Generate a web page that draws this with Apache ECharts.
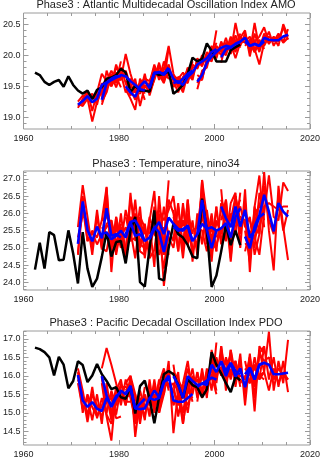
<!DOCTYPE html>
<html>
<head>
<meta charset="utf-8">
<script src="https://cdn.jsdelivr.net/npm/echarts@6/dist/echarts.min.js"></script>
<style>
  html, body { margin: 0; padding: 0; background: #fff; }
  #chart { width: 323px; height: 459px; }
</style>
</head>
<body>
<div id="chart"></div>
<script>
// Decadal hindcasts: start dates every five years, ten years each, four members per start.
const startYears = [1971, 1976, 1981, 1986, 1991, 1996, 2001, 2006];
const obsFirstYear = 1962;
const xTickYears = [1960, 1980, 2000, 2020];

// ---------- Atlantic Multidecadal Oscillation (AMO) ----------
const amoObs = [
  19.72, 19.68, 19.57, 19.52, 19.57, 19.60, 19.49, 19.66, 19.52, 19.43,
  19.38, 19.43, 19.29, 19.44, 19.48, 19.62, 19.64, 19.68, 19.78, 19.72,
  19.40, 19.51, 19.43, 19.43, 19.41, 19.72, 19.68, 19.70, 19.74, 19.38,
  19.44, 19.52, 19.70, 19.96, 19.90, 19.94, 20.19, 20.07, 19.90, 19.90,
  19.90, 20.08, 20.13, 20.17
];
const amoMean = [
  [19.20, 19.26, 19.34, 19.24, 19.30, 19.52, 19.56, 19.62, 19.66, 19.66],
  [19.28, 19.55, 19.60, 19.64, 19.68, 19.66, 19.58, 19.52, 19.45, 19.43],
  [19.50, 19.40, 19.33, 19.50, 19.58, 19.47, 19.72, 19.72, 19.70, 19.80],
  [19.48, 19.70, 19.73, 19.68, 19.78, 19.62, 19.55, 19.62, 19.70, 19.75],
  [19.55, 19.58, 19.52, 19.65, 19.72, 19.85, 19.90, 19.95, 20.05, 20.10],
  [19.57, 19.68, 19.88, 19.98, 20.05, 20.12, 20.15, 20.13, 20.18, 20.22],
  [19.97, 20.10, 20.12, 20.18, 20.22, 20.28, 20.15, 20.18, 20.15, 20.22],
  [20.22, 20.15, 20.18, 20.15, 20.28, 20.25, 20.24, 20.24, 20.30, 20.33]
];
const amoRuns = [
  [[19.15, 19.30, 19.42, 19.10, 19.40, 19.70, 19.58, 19.75, 19.62, 19.60],
   [19.22, 19.18, 19.30, 18.93, 19.25, 19.42, 19.62, 19.55, 19.80, 19.70],
   [19.25, 19.35, 19.28, 19.38, 19.20, 19.55, 19.45, 19.68, 19.58, 19.90],
   [19.18, 19.22, 19.38, 19.30, 19.35, 19.40, 19.60, 19.50, 19.65, 19.48]],
  [[19.30, 19.75, 19.52, 19.85, 19.62, 20.02, 19.70, 19.45, 19.55, 19.38],
   [19.20, 19.45, 19.70, 19.55, 19.80, 19.55, 19.48, 19.62, 19.18, 19.50],
   [19.35, 19.60, 19.50, 19.72, 19.60, 19.75, 19.52, 19.40, 19.52, 19.28],
   [19.25, 19.40, 19.68, 19.48, 19.70, 19.40, 19.62, 19.55, 19.42, 19.58]],
  [[19.45, 19.30, 19.12, 19.62, 19.48, 19.55, 19.85, 19.60, 19.90, 19.72],
   [19.58, 19.52, 19.40, 19.38, 19.70, 19.35, 19.62, 19.88, 19.55, 20.12],
   [19.40, 19.45, 19.28, 19.55, 19.62, 19.58, 19.78, 19.65, 19.80, 19.68],
   [19.55, 19.35, 19.45, 19.42, 19.52, 19.40, 19.68, 19.75, 19.58, 19.85]],
  [[19.50, 19.82, 19.65, 19.78, 20.15, 19.70, 19.48, 19.55, 19.80, 19.70],
   [19.40, 19.60, 19.85, 19.60, 19.70, 19.50, 19.62, 19.72, 19.58, 19.90],
   [19.55, 19.75, 19.68, 19.55, 19.85, 19.58, 19.40, 19.65, 19.75, 19.62],
   [19.45, 19.65, 19.80, 19.72, 19.62, 19.68, 19.60, 19.50, 19.68, 19.82]],
  [[19.48, 19.65, 19.60, 19.55, 19.85, 19.78, 20.00, 19.88, 20.12, 20.05],
   [19.60, 19.50, 19.45, 19.78, 19.65, 19.92, 19.82, 20.05, 19.95, 20.40],
   [19.52, 19.62, 19.58, 19.60, 19.80, 19.80, 19.95, 19.90, 20.15, 20.00],
   [19.62, 19.55, 19.40, 19.70, 19.60, 19.95, 19.85, 20.00, 19.98, 20.20]],
  [[19.45, 19.75, 19.80, 20.10, 19.95, 20.22, 20.05, 20.30, 20.10, 20.35],
   [19.62, 19.60, 19.95, 19.90, 20.15, 20.05, 20.28, 20.02, 20.25, 20.15],
   [19.55, 19.72, 19.85, 20.05, 20.02, 20.18, 20.10, 20.20, 20.05, 20.28],
   [19.68, 19.62, 19.92, 19.95, 20.10, 20.00, 20.20, 20.08, 20.32, 20.12]],
  [[19.88, 20.20, 20.05, 20.52, 20.15, 20.35, 20.10, 20.25, 20.05, 20.30],
   [20.05, 20.00, 20.25, 20.10, 20.30, 20.20, 20.22, 20.05, 20.25, 20.10],
   [19.95, 20.15, 20.08, 20.20, 20.28, 20.40, 19.98, 20.35, 20.12, 20.28],
   [20.00, 20.05, 20.18, 19.95, 20.20, 20.22, 20.30, 20.10, 20.20, 20.15]],
  [[20.30, 20.05, 20.52, 20.10, 20.35, 20.18, 20.30, 20.22, 20.45, 20.25],
   [20.15, 20.25, 20.10, 19.85, 20.20, 20.38, 20.15, 20.30, 20.22, 20.42],
   [20.25, 20.10, 20.22, 20.30, 20.45, 20.20, 20.28, 20.15, 20.50, 20.30],
   [20.18, 20.20, 20.05, 20.20, 20.15, 20.30, 20.22, 20.35, 20.20, 20.28]]
];
const amoTicks = [19.0, 19.5, 20.0, 20.5];

// ---------- Nino3.4 temperature ----------
const ninoObs = [
  24.37, 25.15, 24.40, 25.46, 25.37, 24.64, 24.66, 25.51, 24.84, 23.97,
  25.46, 24.40, 23.87, 24.11, 24.74, 25.46, 24.75, 25.17, 25.20, 24.55,
  25.50, 25.90, 24.01, 23.88, 25.00, 26.09, 24.11, 24.06, 25.00, 25.70,
  25.40, 25.30, 25.08, 24.75, 24.70, 26.43, 25.50, 23.87, 24.20, 24.90,
  25.67, 25.08, 25.50, 25.08
];
const ninoMean = [
  [25.12, 26.35, 25.52, 25.19, 25.62, 25.28, 26.15, 25.35, 25.40, 25.30],
  [25.40, 25.45, 25.25, 25.35, 25.50, 25.30, 25.75, 25.35, 25.40, 25.20],
  [25.40, 25.75, 25.80, 25.55, 25.20, 25.30, 25.60, 25.45, 24.88, 25.50],
  [25.25, 25.55, 25.75, 25.40, 25.88, 25.70, 25.55, 25.50, 25.65, 25.20],
  [25.62, 25.50, 25.55, 25.62, 25.20, 25.40, 25.70, 25.55, 25.60, 25.50],
  [25.40, 26.39, 25.52, 24.99, 25.50, 25.57, 25.72, 25.30, 25.90, 26.15],
  [26.20, 25.86, 25.60, 26.20, 25.62, 26.10, 25.30, 25.50, 25.90, 26.00],
  [25.33, 24.99, 25.62, 25.95, 26.54, 26.05, 25.48, 26.30, 26.05, 25.91]
];
const ninoRuns = [
  [[25.60, 26.82, 25.90, 24.95, 26.10, 25.00, 26.75, 24.90, 25.90, 25.20],
   [24.80, 26.50, 25.20, 25.50, 25.30, 25.80, 25.90, 25.60, 24.90, 25.70],
   [25.30, 25.95, 25.75, 24.80, 25.95, 24.95, 26.40, 25.10, 25.60, 25.00],
   [24.85, 26.20, 25.20, 25.45, 25.10, 25.40, 25.60, 25.80, 25.20, 25.35]],
  [[25.80, 26.77, 24.30, 25.90, 25.10, 26.10, 25.50, 24.70, 25.90, 25.60],
   [25.00, 24.90, 25.70, 24.90, 26.00, 24.80, 26.40, 25.80, 24.90, 24.80],
   [25.60, 25.40, 25.10, 25.70, 25.30, 25.60, 25.20, 25.30, 25.70, 25.40],
   [25.20, 25.70, 25.80, 24.80, 25.60, 24.70, 25.90, 25.50, 25.10, 25.00]],
  [[24.90, 26.60, 25.20, 26.20, 24.70, 25.80, 26.65, 24.80, 25.20, 26.96],
   [25.90, 25.30, 26.40, 25.00, 25.60, 24.70, 24.95, 26.00, 23.90, 25.10],
   [25.30, 25.90, 25.60, 25.80, 24.90, 25.90, 25.40, 25.20, 25.60, 24.80],
   [25.60, 25.20, 26.00, 25.10, 25.70, 24.80, 26.10, 25.80, 24.80, 25.30]],
  [[25.70, 24.45, 26.50, 25.00, 26.40, 26.00, 24.90, 26.30, 25.10, 25.70],
   [24.80, 26.20, 25.30, 24.40, 25.50, 25.20, 26.20, 25.00, 26.40, 24.80],
   [25.40, 25.90, 26.10, 25.80, 26.10, 26.50, 25.40, 25.70, 25.50, 25.00],
   [25.00, 25.60, 25.10, 26.20, 25.30, 25.00, 25.80, 24.70, 26.00, 25.40]],
  [[26.10, 24.90, 26.20, 25.10, 25.80, 24.80, 26.97, 25.20, 26.00, 24.90],
   [25.20, 26.30, 24.90, 26.40, 24.60, 26.00, 25.10, 26.10, 25.10, 26.20],
   [25.90, 25.40, 25.80, 25.30, 25.50, 25.60, 25.50, 24.90, 25.80, 25.30],
   [25.30, 25.60, 25.20, 25.90, 24.90, 25.20, 26.00, 25.80, 25.30, 25.70]],
  [[24.90, 26.97, 25.90, 24.60, 26.20, 25.10, 26.40, 24.70, 26.50, 25.80],
   [25.80, 26.10, 25.10, 25.60, 24.90, 26.30, 25.30, 25.90, 25.40, 26.60],
   [25.60, 26.60, 25.70, 24.80, 25.80, 25.40, 26.00, 24.60, 26.10, 26.40],
   [25.30, 25.90, 25.40, 24.95, 25.10, 25.50, 25.20, 26.00, 25.60, 25.80]],
  [[26.70, 25.20, 26.30, 26.60, 25.00, 26.70, 24.30, 26.20, 27.10, 25.60],
   [25.80, 26.40, 25.00, 25.90, 26.20, 25.60, 25.90, 24.80, 25.40, 26.60],
   [26.40, 26.00, 25.80, 26.50, 25.40, 26.30, 25.10, 25.70, 26.30, 25.80],
   [25.90, 25.80, 25.30, 25.80, 25.90, 25.80, 25.80, 25.30, 24.80, 26.00]],
  [[25.80, 24.70, 26.20, 25.40, 27.20, 25.50, 24.35, 26.80, 25.60, 24.65],
   [24.90, 25.50, 25.00, 26.60, 26.00, 27.10, 25.90, 25.80, 26.90, 26.65],
   [25.50, 24.60, 26.00, 26.20, 26.80, 25.80, 25.40, 26.50, 25.50, 26.10],
   [25.10, 25.20, 25.30, 25.60, 26.20, 26.30, 26.20, 26.10, 26.20, 26.20]]
];
const ninoTicks = [24.0, 24.5, 25.0, 25.5, 26.0, 26.5, 27.0];

// ---------- Pacific Decadal Oscillation (PDO) ----------
const pdoObs = [
  16.76, 16.72, 16.64, 16.50, 16.01, 16.51, 16.30, 15.66, 15.86, 16.39,
  16.29, 15.83, 16.01, 16.32, 16.04, 15.86, 15.64, 15.69, 15.42, 15.38,
  15.72, 14.98, 15.72, 15.87, 15.38, 14.72, 15.42, 16.04, 16.13, 16.04,
  15.75, 15.40, 15.91, 15.75, 15.69, 15.42, 15.64, 16.64, 16.30, 16.06,
  15.80, 15.56, 15.98, 15.88
];
const pdoMean = [
  [16.02, 15.33, 15.16, 15.29, 15.11, 15.05, 15.40, 15.20, 15.45, 15.55],
  [15.99, 15.47, 15.16, 15.40, 15.60, 15.50, 15.73, 15.11, 15.25, 15.38],
  [15.55, 15.65, 15.12, 15.10, 15.12, 15.40, 15.35, 15.40, 15.85, 15.90],
  [15.38, 15.60, 15.42, 15.82, 16.00, 15.33, 15.30, 15.30, 15.40, 15.51],
  [15.99, 15.75, 15.40, 15.99, 15.86, 15.75, 15.78, 15.87, 15.95, 15.90],
  [15.70, 15.80, 15.75, 16.30, 16.10, 16.39, 16.13, 16.35, 16.13, 16.04],
  [16.39, 15.99, 16.34, 15.98, 16.20, 15.69, 16.22, 15.90, 16.30, 16.35],
  [16.04, 16.22, 15.90, 16.30, 16.35, 16.30, 16.04, 16.04, 16.06, 16.08]
];
const pdoRuns = [
  [[16.20, 15.60, 14.90, 15.70, 14.85, 15.40, 15.00, 15.60, 15.20, 15.80],
   [15.80, 15.10, 15.40, 14.80, 15.50, 14.70, 15.80, 14.95, 15.70, 15.35],
   [15.90, 15.50, 14.75, 15.50, 15.20, 14.90, 15.30, 15.40, 14.85, 14.90],
   [16.10, 15.00, 15.50, 15.15, 14.90, 15.20, 15.50, 14.80, 15.60, 15.70]],
  [[16.20, 16.75, 16.30, 15.80, 15.20, 15.90, 15.40, 14.80, 15.60, 15.10],
   [15.80, 14.90, 14.25, 15.60, 15.90, 15.20, 16.00, 15.50, 14.90, 15.70],
   [16.00, 15.30, 15.50, 14.95, 15.70, 15.70, 15.60, 14.70, 15.40, 15.20],
   [15.95, 14.95, 14.70, 15.30, 15.60, 15.20, 15.90, 15.40, 15.10, 15.50]],
  [[15.80, 16.00, 14.35, 15.40, 14.80, 15.90, 15.00, 15.80, 16.20, 15.60],
   [15.30, 15.30, 15.50, 14.70, 15.50, 14.90, 15.70, 15.00, 15.50, 16.20],
   [15.60, 15.80, 15.20, 15.30, 14.90, 15.60, 15.10, 15.60, 16.00, 15.70],
   [15.40, 15.50, 14.90, 14.90, 15.40, 15.20, 15.50, 15.20, 15.70, 16.10]],
  [[15.70, 15.20, 15.90, 15.50, 16.40, 14.45, 15.60, 15.00, 15.80, 15.30],
   [15.00, 15.90, 15.10, 16.10, 15.70, 15.80, 14.90, 15.60, 15.00, 15.90],
   [15.50, 15.40, 15.60, 15.90, 16.10, 15.20, 15.50, 14.70, 15.60, 15.40],
   [15.20, 15.80, 15.00, 15.70, 15.80, 15.60, 15.20, 15.50, 15.20, 15.60]],
  [[16.30, 15.40, 15.80, 16.40, 15.50, 16.10, 15.40, 16.20, 15.60, 16.90],
   [15.70, 16.10, 14.70, 15.70, 16.20, 15.40, 16.10, 15.50, 16.30, 15.60],
   [16.10, 15.90, 15.60, 16.20, 15.70, 15.90, 15.60, 16.00, 15.90, 16.10],
   [15.80, 15.60, 15.50, 15.60, 16.00, 15.60, 16.00, 15.70, 16.00, 15.50]],
  [[15.30, 16.20, 15.40, 16.70, 15.80, 16.80, 15.90, 16.60, 15.80, 16.50],
   [16.10, 15.50, 16.10, 16.00, 16.50, 16.00, 16.50, 16.10, 16.40, 15.70],
   [15.60, 16.00, 15.60, 16.50, 15.90, 16.60, 15.80, 16.70, 16.00, 16.30],
   [15.90, 15.60, 16.00, 16.10, 16.30, 16.20, 16.40, 16.00, 16.30, 15.80]],
  [[16.80, 15.60, 16.70, 15.70, 16.60, 15.20, 16.50, 15.04, 16.80, 16.60],
   [16.00, 16.40, 15.90, 16.40, 15.80, 16.00, 15.80, 16.50, 15.90, 16.10],
   [16.60, 16.10, 16.60, 15.80, 16.40, 15.50, 16.40, 15.70, 16.60, 16.80],
   [16.20, 15.90, 16.10, 16.00, 16.00, 15.90, 16.10, 16.30, 16.00, 15.90]],
  [[15.60, 16.60, 15.40, 16.70, 16.10, 17.19, 15.60, 16.40, 15.80, 16.97],
   [16.40, 15.80, 16.30, 15.90, 16.80, 15.90, 16.50, 15.70, 16.40, 15.56],
   [15.90, 16.50, 15.70, 16.60, 16.40, 16.50, 15.90, 16.20, 16.00, 15.90],
   [16.20, 16.00, 16.20, 16.00, 16.10, 15.60, 16.20, 15.80, 16.10, 15.90]]
];
const pdoTicks = [14.5, 15.0, 15.5, 16.0, 16.5, 17.0];

// ---------- layout ----------
const MID_YEAR = 0.4;       // annual means drawn a little into the year
const FRAME = '#9a9a9a';
const TEXT = '#222';
const FONT = 'Liberation Sans, Arial, Helvetica, sans-serif';

const panels = [
  { title: 'Phase3 : Atlantic Multidecadal Oscillation Index AMO', titleY: 5,
    top: 13, height: 116, min: 18.81, max: 20.68, ticks: amoTicks,
    obs: amoObs, mean: amoMean, runs: amoRuns },
  { title: 'Phase3 : Temperature, nino34', titleY: 164,
    top: 171, height: 119, min: 23.78, max: 27.23, ticks: ninoTicks,
    obs: ninoObs, mean: ninoMean, runs: ninoRuns },
  { title: 'Phase3 : Pacific Decadal Oscillation Index PDO', titleY: 323,
    top: 331, height: 116, min: 14.13, max: 17.21, ticks: pdoTicks,
    obs: pdoObs, mean: pdoMean, runs: pdoRuns }
];
const GRID_LEFT = 18, GRID_RIGHT = 9;

function minorValues(lo, hi, step) {
  const out = [];
  const first = Math.ceil(lo / step - 1e-9);
  const last = Math.floor(hi / step + 1e-9);
  for (let k = first; k <= last; k++) out.push(+(k * step).toFixed(3));
  return out;
}

const grids = [], xAxes = [], yAxes = [], series = [], graphics = [];

panels.forEach((p, pi) => {
  grids.push({ left: GRID_LEFT, right: GRID_RIGHT, top: p.top, height: p.height,
               show: true, borderColor: FRAME, borderWidth: 1, backgroundColor: 'transparent' });

  const xCommon = {
    gridIndex: pi, type: 'value', min: 1960, max: 2020, interval: 20,
    axisLine: { show: false }, splitLine: { show: false },
    axisTick: { inside: true, length: 5, lineStyle: { color: FRAME } },
    minorTick: { show: true, splitNumber: 4, length: 3, lineStyle: { color: FRAME } }
  };
  xAxes.push(Object.assign({}, xCommon, {
    position: 'bottom',
    axisLabel: { fontSize: 9, color: TEXT, fontFamily: FONT, margin: 5,
                 customValues: xTickYears, formatter: v => String(v) }
  }));
  xAxes.push(Object.assign({}, xCommon, { position: 'top', axisLabel: { show: false } }));

  const minors = minorValues(p.min, p.max, 0.1).filter(v => !p.ticks.some(t => Math.abs(t - v) < 1e-6));
  ['left', 'right'].forEach(side => {
    yAxes.push({
      gridIndex: pi, type: 'value', min: p.min, max: p.max, position: side,
      axisLine: { show: false }, splitLine: { show: false },
      axisTick: { inside: true, length: 5, customValues: p.ticks, lineStyle: { color: FRAME } },
      axisLabel: side === 'left'
        ? { fontSize: 9, color: TEXT, fontFamily: FONT, margin: 3,
            customValues: p.ticks, formatter: v => v.toFixed(1) }
        : { show: false }
    });
    yAxes.push({
      gridIndex: pi, type: 'value', min: p.min, max: p.max, position: side,
      axisLine: { show: false }, splitLine: { show: false },
      axisTick: { inside: true, length: 3, customValues: minors, lineStyle: { color: FRAME } },
      axisLabel: { show: false }
    });
  });

  const xi = pi * 2, yi = pi * 4;
  const base = { type: 'line', xAxisIndex: xi, yAxisIndex: yi, symbol: 'none',
                 showSymbol: false, silent: true, animation: false, clip: true };

  // ensemble members
  p.runs.forEach((members, si) => {
    members.forEach(run => {
      series.push(Object.assign({}, base, {
        z: 2,
        data: run.map((v, i) => [startYears[si] + i + MID_YEAR, v]),
        lineStyle: { color: '#ff0000', width: 2 }
      }));
    });
  });
  // observations
  series.push(Object.assign({}, base, {
    z: 3,
    data: p.obs.map((v, i) => [obsFirstYear + i + MID_YEAR, v]),
    lineStyle: { color: '#000000', width: 2.5 }
  }));
  // ensemble means per start date
  p.mean.forEach((m, si) => {
    series.push(Object.assign({}, base, {
      z: 4,
      data: m.map((v, i) => [startYears[si] + i + MID_YEAR, v]),
      lineStyle: { color: '#0000ff', width: 2.6 }
    }));
  });

  graphics.push({
    type: 'text', x: GRID_LEFT + (323 - GRID_LEFT - GRID_RIGHT) / 2, y: p.titleY,
    style: { text: p.title, fill: TEXT, font: '11px ' + FONT,
             textAlign: 'center', textVerticalAlign: 'middle' }
  });
});

const chart = echarts.init(document.getElementById('chart'), null, { renderer: 'canvas' });
chart.setOption({
  animation: false,
  backgroundColor: '#ffffff',
  grid: grids,
  xAxis: xAxes,
  yAxis: yAxes,
  series: series,
  graphic: graphics
});
</script>
</body>
</html>
